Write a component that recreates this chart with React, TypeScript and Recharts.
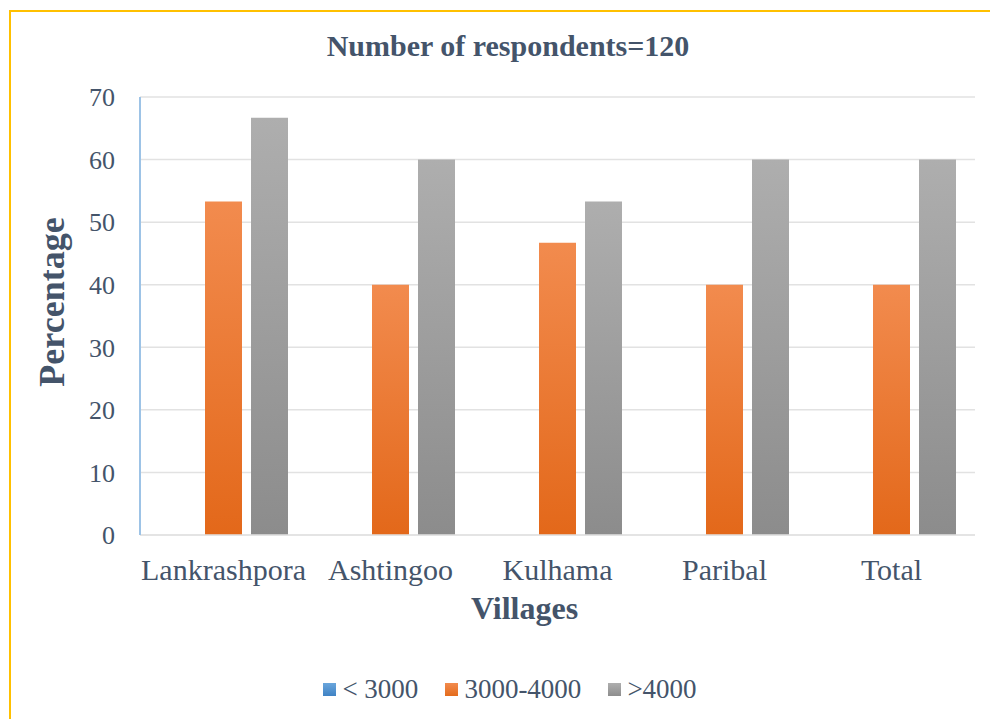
import React from "react";
import { BarChart, Bar, XAxis, YAxis, CartesianGrid, Legend, Label } from "recharts";

const villages = ["Lankrashpora", "Ashtingoo", "Kulhama", "Paribal", "Total"];
const below3000 = [0, 0, 0, 0, 0];
const from3000to4000 = [53.3, 40, 46.7, 40, 40];
const above4000 = [66.7, 60, 53.3, 60, 60];
const yTicks = [0, 10, 20, 30, 40, 50, 60, 70];

const seriesNames = ["< 3000", "3000-4000", ">4000"];
const seriesKeys = ["s1", "s2", "s3"];

const data = villages.map((v, i) => ({
  name: v,
  s1: below3000[i],
  s2: from3000to4000[i],
  s3: above4000[i],
}));

const FONT = "'Liberation Serif', 'Times New Roman', serif";
const TXT = "#44546A";

const legendColors: Record<string, string> = {
  s1: "linear-gradient(#6AA6DC, #3F82C4)",
  s2: "linear-gradient(#F28B4E, #E46C1C)",
  s3: "linear-gradient(#AEAEAE, #8E8E8E)",
};

const renderLegend = () => {
  return (
    <div
      style={{
        display: "flex",
        justifyContent: "center",
        alignItems: "center",
        paddingLeft: 30,
        height: 30,
        fontFamily: FONT,
        fontSize: 27,
        color: TXT,
      }}
    >
      {seriesKeys.map((k, i) => (
        <div key={k} style={{ display: "flex", alignItems: "center", marginRight: i < seriesKeys.length - 1 ? 27 : 0 }}>
          <span
            style={{
              display: "inline-block",
              width: 13,
              height: 13,
              background: legendColors[k],
              marginRight: 6,
            }}
          />
          <span style={{ fontFamily: FONT, fontSize: 27, color: TXT, whiteSpace: "pre" }}>{seriesNames[i]}</span>
        </div>
      ))}
    </div>
  );
};

const YLabel = (props: any) => {
  const { viewBox } = props;
  const x = viewBox.x - 28;
  const y = viewBox.y + viewBox.height / 2 - 14;
  return (
    <text
      x={x}
      y={y}
      transform={`rotate(-90, ${x}, ${y})`}
      textAnchor="middle"
      dominantBaseline="central"
      fontFamily={FONT}
      fontSize={36}
      fontWeight="bold"
      fill={TXT}
    >
      Percentage
    </text>
  );
};

const XLabel = (props: any) => {
  const { viewBox } = props;
  const x = viewBox.x + viewBox.width / 2 - 33;
  const y = viewBox.y + 84;
  return (
    <text x={x} y={y} textAnchor="middle" fontFamily={FONT} fontSize={32} fontWeight="bold" fill={TXT}>
      Villages
    </text>
  );
};

export default function App() {
  return (
    <div style={{ position: "absolute", left: 0, top: 0, width: 990, height: 719, background: "#fff" }}>
      <div
        style={{
          position: "absolute",
          left: 9,
          top: 10,
          width: 990 - 9,
          height: 719 - 10,
          borderLeft: "2px solid #FFC000",
          borderTop: "2px solid #FFC000",
          boxSizing: "border-box",
        }}
      />
      <div
        style={{
          position: "absolute",
          left: 0,
          width: 1016,
          top: 29,
          textAlign: "center",
          fontFamily: FONT,
          fontSize: 30,
          fontWeight: "bold",
          color: TXT,
        }}
      >
        Number of respondents=120
      </div>
      <div style={{ position: "absolute", left: 0, top: 0 }}>
        <BarChart
          width={990}
          height={719}
          data={data}
          margin={{ top: 97, right: 15, bottom: 64, left: 80 }}
          barSize={37}
          barGap={9}
        >
          <defs>
            <linearGradient id="gBlue" x1="0" y1="0" x2="0" y2="1">
              <stop offset="0%" stopColor="#6AA6DC" />
              <stop offset="100%" stopColor="#3F82C4" />
            </linearGradient>
            <linearGradient id="gOrange" x1="0" y1="0" x2="0" y2="1">
              <stop offset="0%" stopColor="#F28B4E" />
              <stop offset="100%" stopColor="#E3681A" />
            </linearGradient>
            <linearGradient id="gGray" x1="0" y1="0" x2="0" y2="1">
              <stop offset="0%" stopColor="#AEAEAE" />
              <stop offset="100%" stopColor="#8C8C8C" />
            </linearGradient>
          </defs>
          <CartesianGrid vertical={false} stroke="#E2E2E2" strokeWidth={1.5} />
          <XAxis
            dataKey="name"
            height={90}
            tickLine={false}
            tickSize={0}
            tickMargin={24}
            axisLine={{ stroke: "#E2E2E2", strokeWidth: 1.5 }}
            tick={{ fontFamily: FONT, fontSize: 30, fill: TXT }}
            interval={0}
          >
            <Label content={<XLabel />} />
          </XAxis>
          <YAxis
            width={60}
            domain={[0, 70]}
            ticks={yTicks}
            tickLine={false}
            tickSize={0}
            tickMargin={25}
            axisLine={{ stroke: "#9DC3E6", strokeWidth: 2 }}
            tick={{ fontFamily: FONT, fontSize: 26, fill: TXT }}
          >
            <Label content={<YLabel />} />
          </YAxis>
          <Legend
            content={renderLegend}
            wrapperStyle={{ position: "absolute", top: 674, left: 0, width: 990, height: 30 }}
          />
          <Bar dataKey="s1" name={seriesNames[0]} fill="url(#gBlue)" isAnimationActive={false} />
          <Bar dataKey="s2" name={seriesNames[1]} fill="url(#gOrange)" isAnimationActive={false} />
          <Bar dataKey="s3" name={seriesNames[2]} fill="url(#gGray)" isAnimationActive={false} />
        </BarChart>
      </div>
    </div>
  );
}
